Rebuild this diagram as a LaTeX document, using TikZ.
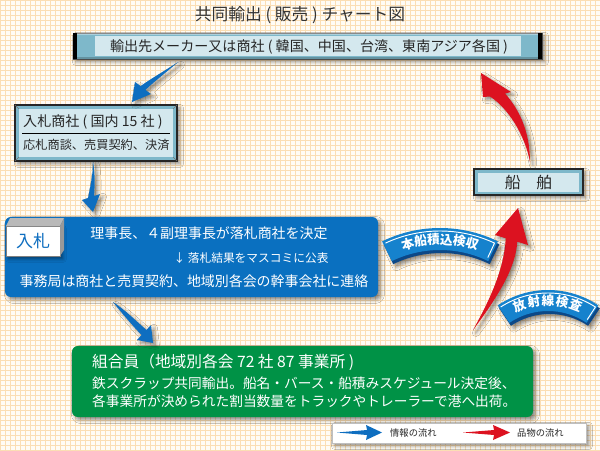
\documentclass[tikz,border=0pt]{standalone}
\usepackage{fontspec}
\setmainfont{Noto Sans CJK JP}
\usetikzlibrary{shadows,shadows.blur}

\definecolor{paper}{RGB}{255,252,245}
\definecolor{gridline}{RGB}{251,222,180}
\definecolor{infoblue}{RGB}{14,110,192}
\definecolor{goodsred}{RGB}{220,18,32}
\definecolor{panelblue}{RGB}{10,112,192}
\definecolor{panelgreen}{RGB}{0,146,70}
\definecolor{steel}{RGB}{126,184,202}
\definecolor{pale}{RGB}{212,232,238}
\definecolor{bannerblue}{RGB}{22,130,205}
\definecolor{bannerdark}{RGB}{12,72,135}

\newcommand\pxfont[1]{\fontsize{#1}{#1}\selectfont}

\begin{document}
\begin{tikzpicture}[x=0.03cm,y=-0.03cm,
  softshadow/.style={blur shadow={shadow xshift=2.5pt,shadow yshift=-2.5pt,shadow blur radius=3pt,shadow opacity=45}},
  infoflow/.style={fill=infoblue,softshadow},
  goodsflow/.style={fill=goodsred,softshadow},
  bevelbox/.style={fill=steel,draw=black!85,line width=1pt,softshadow},
  panel/.style={draw=none,rounded corners=5pt,softshadow},
  paneltext/.style={text=white,inner sep=0pt,font=\pxfont{11.9pt}},
  boxtext/.style={text=black!85,inner sep=0pt},
  bannertext/.style={text=white,inner sep=0pt,font=\pxfont{10.8pt}\bfseries},
  keytext/.style={anchor=west,inner sep=0pt,text=black!85,font=\pxfont{7.9pt}}]
\useasboundingbox (0,0) rectangle (600,450);
% paper and grid
\fill[paper] (0,0) rectangle (600,450);
\foreach \gx in {0,5,...,600} \draw[gridline,line width=0.5pt] (\gx,0) -- (\gx,450);
\foreach \gy in {0,5,...,450} \draw[gridline,line width=0.5pt] (0,\gy) -- (600,\gy);

\node[text=black!80,font=\pxfont{14.3pt},inner sep=0pt] (title) at (300,15) {共同輸出 ( 販売 ) チャート図};

% buyers bar
\filldraw[fill=steel,draw=black!70,softshadow] (73,33) rectangle (542,59);
\fill[black] (73,33) rectangle (77,59);
\fill[black] (538,33) rectangle (542,59);
\fill[white,opacity=.35] (77,33) rectangle (538,35.5);
\fill[black,opacity=.2] (77,56.5) rectangle (538,59);
\fill[pale] (95,36) rectangle (521,56);
\node[boxtext,font=\pxfont{12pt}] (buyers) at (309,46.5) {輸出先メーカー又は商社 ( 韓国、中国、台湾、東南アジア各国 )};

% trading companies
\filldraw[bevelbox,line width=1.3pt] (15,105) rectangle (177,161);
\fill[pale] (19,109) rectangle (173,157);
\draw[black!55] (15,105) -- (19,109) (177,105) -- (173,109) (15,161) -- (19,157) (177,161) -- (173,157);
\node[boxtext,anchor=west,font=\pxfont{12pt}] (bidder) at (23,122) {入札商社 ( 国内 15 社 )};
\draw[line width=0.8pt] (22,133) -- (170,133);
\node[boxtext,anchor=west,font=\pxfont{10.4pt}] (bidwork) at (23,145) {応札商談、売買契約、決済};

% tender panel
\filldraw[panel,fill=panelblue] (5,217) rectangle (378,297);
\filldraw[fill=white,draw=gray,softshadow] (6,226) rectangle (60,256);
\fill[gray!55] (6,226) -- (10,218) -- (64,218) -- (60,226) -- cycle;
\fill[gray!80] (60,226) -- (64,218) -- (64,250) -- (60,256) -- cycle;
\node[text=infoblue,inner sep=0pt,font=\pxfont{14.5pt}] (tender) at (33,241) {入札};
\node[paneltext] (decide) at (209,233) {理事長、４副理事長が落札商社を決定};
\node[paneltext,font=\pxfont{10pt}] (press) at (251,258) {↓ 落札結果をマスコミに公表};
\node[paneltext] (contact) at (194,281) {事務局は商社と売買契約、地域別各会の幹事会社に連絡};

% members panel
\filldraw[panel,fill=panelgreen] (72,346) rectangle (533,417);
\node[paneltext,anchor=west,font=\pxfont{13.4pt}] (members) at (92,362) {組合員（地域別各会 72 社 87 事業所 )};
\node[paneltext,anchor=west,font=\pxfont{11.7pt}] (export) at (92,383) {鉄スクラップ共同輸出。船名・バース・船積みスケジュール決定後、};
\node[paneltext,anchor=west,font=\pxfont{11.7pt}] (haul) at (92,401) {各事業所が決められた割当数量をトラックやトレーラーで港へ出荷。};

% ship
\filldraw[bevelbox] (474,169) rectangle (583,195);
\fill[pale] (478,172.5) rectangle (579,191.5);
\node[boxtext,font=\pxfont{13.5pt}] (ship) at (528.5,182.5) {船　舶};

% information flow
\coordinate (aTail) at (178,62); \coordinate (aTip) at (132,102);
\fill[infoflow] (aTail) .. controls (166,70) and (152,78) .. (140.6,86.1) -- (135,82) -- (aTip) -- (151,94) -- (145.4,89.9) .. controls (156,80) and (168,71) .. (aTail) -- cycle;
\coordinate (bTail) at (93,162); \coordinate (bTip) at (93,212);
\fill[infoflow] (bTail) .. controls (93,175) and (90,188) .. (88,198) -- (82,200) -- (bTip) -- (100,194) -- (94,196) .. controls (95,185) and (95,172) .. (bTail) -- cycle;
\coordinate (cTail) at (113,302); \coordinate (cTip) at (153,343);
\fill[infoflow] (cTail) .. controls (121,312) and (131,324) .. (141.5,335) -- (137,340) -- (cTip) -- (151,325) -- (146.5,330) .. controls (135,320) and (124,309) .. (cTail) -- cycle;

% goods flow
\coordinate (dTail) at (473,330); \coordinate (dTip) at (518,208);
\fill[goodsflow] (dTail) .. controls (492,296) and (504,268) .. (505.8,238.3) -- (495,235) -- (dTip) -- (528,245) -- (517.2,241.7) .. controls (516,268) and (497,298) .. (dTail) -- cycle;
\coordinate (eTail) at (530,162); \coordinate (eTip) at (481,73);
\fill[goodsflow] (eTail) .. controls (525,135) and (508,108) .. (490,96.5) -- (483,97) -- (eTip) -- (511,92) -- (505,93.5) .. controls (518,108) and (530,130) .. (eTail) -- cycle;

% banner: loading check
\begin{scope}[shift={(440,360)}]
\fill[bannerdark,softshadow,shift={(1.5,3)}] (-116:132) arc[start angle=-116,end angle=-64,radius=132] -- (-64:110) arc[start angle=-64,end angle=-116,radius=110] -- cycle;
\fill[bannerblue] (-116:132) arc[start angle=-116,end angle=-64,radius=132] -- (-64:110) arc[start angle=-64,end angle=-116,radius=110] -- cycle;
\draw[white,line width=0.8pt] (-115:129) arc[start angle=-115,end angle=-65,radius=129] -- (-65:113);
\foreach \ch [count=\i from 0] in {本,船,積,込,検,収}
  \node[bannertext,rotate={-(\i-2.5)*6.2}] (load\i) at ({-90+(\i-2.5)*6.2}:120.5) {\ch};
\end{scope}

% banner: radiation check
\begin{scope}[shift={(548,380)}]
\fill[bannerdark,softshadow,shift={(1.5,3)}] (-124:90) arc[start angle=-124,end angle=-56,radius=90] -- (-56:69) arc[start angle=-56,end angle=-124,radius=69] -- cycle;
\fill[bannerblue] (-124:90) arc[start angle=-124,end angle=-56,radius=90] -- (-56:69) arc[start angle=-56,end angle=-124,radius=69] -- cycle;
\draw[white,line width=0.8pt] (-123:87) arc[start angle=-123,end angle=-57,radius=87] -- (-57:72);
\foreach \ch [count=\i from 0] in {放,射,線,検,査}
  \node[bannertext,rotate={-(\i-2)*10.3}] (scan\i) at ({-90+(\i-2)*10.3}:79.5) {\ch};
\end{scope}

% key
\filldraw[fill=white,draw=black!25,softshadow] (332,423) rectangle (586,443);
\fill[infoblue] (337,432.5) -- (367,430) -- (366,425) -- (382,432.5) -- (366,440) -- (367,435) -- cycle;
\node[keytext] (infokey) at (390,432.5) {情報の流れ};
\fill[goodsred] (463,432.5) -- (494,430) -- (493,425) -- (510,432.5) -- (493,440) -- (494,435) -- cycle;
\node[keytext] (goodskey) at (517,432.5) {品物の流れ};
\end{tikzpicture}
\end{document}
